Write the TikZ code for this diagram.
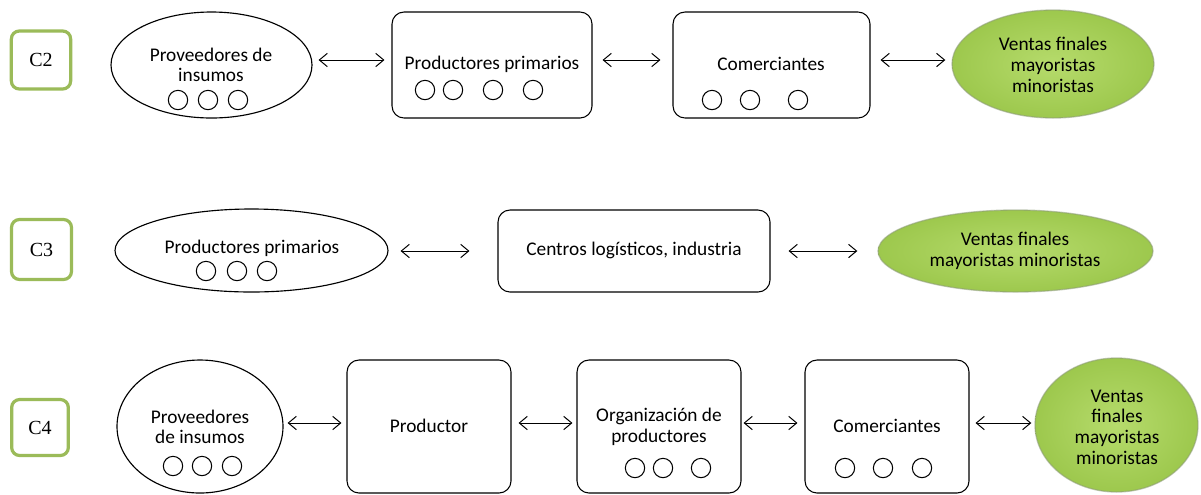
\documentclass[tikz,border=0pt]{standalone}
\usepackage{fontspec}
\setmainfont{Carlito}
\newfontfamily\timesf{Liberation Serif}
\usetikzlibrary{shapes.geometric,arrows.meta,calc}
\definecolor{lblgreen}{HTML}{9BBB59}
\definecolor{gin}{HTML}{B6DB6C}
\definecolor{gout}{HTML}{9DC84D}
\definecolor{grim}{HTML}{8C9A78}
\tikzset{
  lblbox/.style={draw=lblgreen, line width=2.4pt, rounded corners=6pt, fill=white, inner sep=0,
    font=\timesf\fontsize{15}{18}\selectfont},
  ell/.style={draw, ellipse, line width=0.85pt, inner sep=0},
  rbox/.style={draw, rounded corners=9pt, line width=0.8pt, inner sep=0},
  dot/.style={draw, circle, minimum size=14.5pt, inner sep=0, line width=0.8pt},
  gell/.style={ellipse, inner sep=0, shading=radial, inner color=gin, outer color=gout, draw=grim, draw opacity=0.55, line width=1pt},
  txt/.style={align=center, inner sep=0, font=\fontsize{14.5}{15.5}\selectfont},
  arr/.style={{Straight Barb[length=6pt,width=10pt]}-{Straight Barb[length=6pt,width=10pt]}, line width=0.75pt}
}
\begin{document}
\begin{tikzpicture}[x=0.75pt,y=-0.75pt]
\useasboundingbox (0,0) rectangle (1201,494);
% ---------- C2 ----------
\node[lblbox, minimum width=44.5pt, minimum height=43.5pt] (l2) at (41,60) {C2};
\node[ell, minimum width=150.75pt, minimum height=79.5pt] (e21) at (211.5,65) {};
\node[rbox, minimum width=150pt, minimum height=79.5pt] (b22) at (492,65) {};
\node[rbox, minimum width=147.75pt, minimum height=79.5pt] (b23) at (771.5,65) {};
\node[gell, minimum width=151.5pt, minimum height=81pt] (g24) at (1053,64) {};
\node[txt] (t21) at (211,65) {Proveedores de\\insumos};
\node[txt] (t22) at (492,64) {Productores primarios};
\node[txt] (t23) at (771,64) {Comerciantes};
\node[txt] (t24) at (1053,65) {Ventas finales\\mayoristas\\minoristas};
\node[dot] (d211) at (178,100) {};
\node[dot] (d212) at (208,100) {};
\node[dot] (d213) at (238,100) {};
\node[dot] (d221) at (425,90) {};
\node[dot] (d222) at (453,90) {};
\node[dot] (d223) at (493,90) {};
\node[dot] (d224) at (533,90) {};
\node[dot] (d231) at (712,100) {};
\node[dot] (d232) at (750,100) {};
\node[dot] (d233) at (798,100) {};
\draw[arr] ($(e21.east)+(6,-5)$) -- ($(b22.west)+(-7,-5)$);
\draw[arr] ($(b22.east)+(10,-5)$) -- ($(b23.west)+(-12,-5)$);
\draw[arr] ($(b23.east)+(10,-5)$) -- ($(g24.west)+(-6,-4)$);
% ---------- C3 ----------
\node[lblbox, minimum width=45pt, minimum height=45pt] (l3) at (41.5,249.5) {C3};
\node[ell, minimum width=204.75pt, minimum height=62.25pt] (e31) at (251.5,250.5) {};
\node[rbox, minimum width=204pt, minimum height=61.5pt] (b32) at (634,251) {};
\node[gell, minimum width=206.25pt, minimum height=61.5pt] (g33) at (1015.5,251) {};
\node[txt] (t31) at (252,248) {Productores primarios};
\node[txt] (t32) at (634,250) {Centros logísticos, industria};
\node[txt] (t33) at (1015,251) {Ventas finales\\mayoristas minoristas};
\node[dot] (d311) at (206,271) {};
\node[dot] (d312) at (237,271) {};
\node[dot] (d313) at (267,271) {};
\draw[arr] ($(e31.east)+(12,0.5)$) -- ($(b32.west)+(-28,0)$);
\draw[arr] ($(b32.east)+(18,0)$) -- ($(g33.west)+(-20,0)$);
% ---------- C4 ----------
\node[lblbox, minimum width=42.5pt, minimum height=42pt] (l4) at (40,427.5) {C4};
\node[ell, minimum width=124.5pt, minimum height=99.75pt] (e41) at (200,426.5) {};
\node[rbox, minimum width=123pt, minimum height=99.75pt] (b42) at (429,426.5) {};
\node[rbox, minimum width=123pt, minimum height=99.75pt] (b43) at (659,426.5) {};
\node[rbox, minimum width=123pt, minimum height=99.75pt] (b44) at (887,426.5) {};
\node[gell, minimum width=122.25pt, minimum height=100.5pt] (g45) at (1116.5,425) {};
\node[txt] (t41) at (200,427) {Proveedores\\de insumos};
\node[txt] (t42) at (429,426) {Productor};
\node[txt] (t43) at (659,427) {Organización de\\productores};
\node[txt] (t44) at (887,426) {Comerciantes};
\node[txt] (t45) at (1117,427) {Ventas\\finales\\mayoristas\\minoristas};
\node[dot] (d411) at (173,466) {};
\node[dot] (d412) at (202,466) {};
\node[dot] (d413) at (232,466) {};
\node[dot] (d431) at (635,468) {};
\node[dot] (d432) at (663,468) {};
\node[dot] (d433) at (701,468) {};
\node[dot] (d441) at (845,468) {};
\node[dot] (d442) at (883,468) {};
\node[dot] (d443) at (922,468) {};
\draw[arr] ($(e41.east)+(4,-3.5)$) -- ($(b42.west)+(-5,-3.5)$);
\draw[arr] ($(b42.east)+(7,-3.5)$) -- ($(b43.west)+(-4,-3.5)$);
\draw[arr] ($(b43.east)+(2,-3.5)$) -- ($(b44.west)+(-7,-3.5)$);
\draw[arr] ($(b44.east)+(6,-3.5)$) -- ($(g45.west)+(-3,-2)$);
\end{tikzpicture}
\end{document}
